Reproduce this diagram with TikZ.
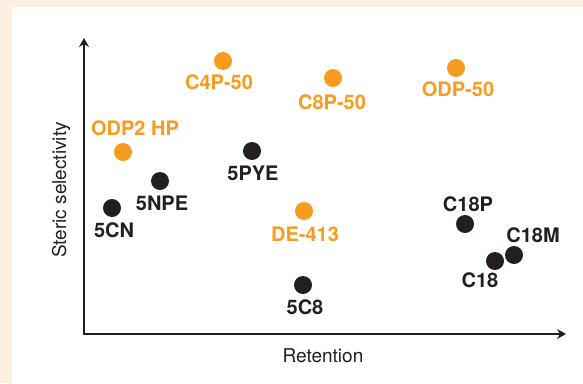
\documentclass[tikz,border=0pt]{standalone}
\usepackage{fontspec}
\setmainfont{TeX Gyre Heros}
\usetikzlibrary{arrows.meta,positioning}
\definecolor{chartorange}{RGB}{247,156,32}
\definecolor{chartblack}{RGB}{35,31,32}
\definecolor{chartcream}{RGB}{253,239,224}

\begin{document}
\begin{tikzpicture}[x=1pt,y=-1pt,>={Stealth[length=9pt,width=10pt,inset=3pt]},line width=2.8pt]
                \tikzstyle{col}=[circle,fill=chartblack,minimum size=18pt,inner sep=0pt]
                \tikzstyle{hilite}=[col,fill=chartorange]
                \tikzstyle{col-label}=[text=chartblack,font=\fontsize{20}{23}\selectfont\bfseries,inner sep=0pt]
                \tikzstyle{hilite-label}=[col-label,text=chartorange]
                \tikzstyle{axis-label}=[text=chartblack,font=\fontsize{19}{22}\selectfont,inner sep=0pt]

                \fill[chartcream] (0,0) rectangle (583,383);
                \fill[white] (12,7) rectangle (583,383);
                \useasboundingbox (0,0) rectangle (583,383);

                % axes
                \coordinate (origin) at (84,334);
                \coordinate (y-end) at (84,38);
                \coordinate (x-end) at (566,334);
                \draw[<->,chartblack] (y-end) -- (origin) -- (x-end);
                \node[axis-label] at (323,356) (x-lb) {Retention};
                \node[axis-label,rotate=90] at (61,190) (y-lb) {Steric selectivity};

                % orange columns
                \node[hilite] (p_1) at (123,152) {};
                \node[hilite-label] at (135,128) (p_1-cl) {ODP2 HP};
                \node[hilite] (p_2) at (223,61) {};
                \node[hilite-label] at (219,82) (p_2-cl) {C4P-50};
                \node[hilite] (p_3) at (333,78) {};
                \node[hilite-label] at (332,102) (p_3-cl) {C8P-50};
                \node[hilite] (p_4) at (456,68) {};
                \node[hilite-label] at (458,89) (p_4-cl) {ODP-50};
                \node[hilite] (p_5) at (304,211) {};
                \node[hilite-label] at (305,234) (p_5-cl) {DE-413};

                % black columns
                \node[col] (p_6) at (112,208) {};
                \node[col-label] at (114,230) (p_6-cl) {5CN};
                \node[col] (p_7) at (160,181) {};
                \node[col-label] at (162,203) (p_7-cl) {5NPE};
                \node[col] (p_8) at (252,151) {};
                \node[col-label] at (253,173) (p_8-cl) {5PYE};
                \node[col] (p_9) at (303,285) {};
                \node[col-label] at (305,307) (p_9-cl) {5C8};
                \node[col] (p_10) at (465,224) {};
                \node[col-label] at (468,204) (p_10-cl) {C18P};
                \node[col] (p_11) at (495,261) {};
                \node[col-label] at (480,280) (p_11-cl) {C18};
                \node[col] (p_12) at (514,255) {};
                \node[col-label] at (533,235) (p_12-cl) {C18M};
\end{tikzpicture}
\end{document}
